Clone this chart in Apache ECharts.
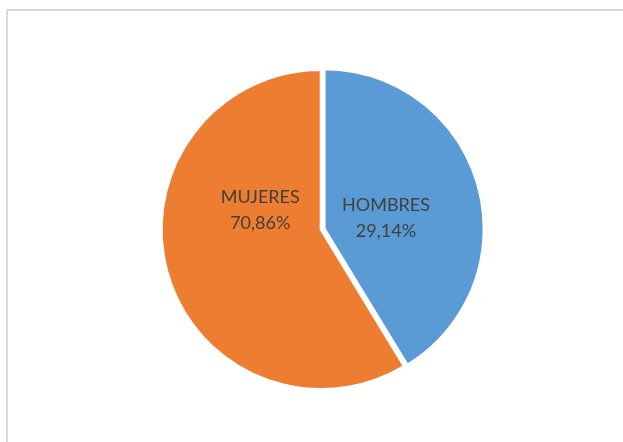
<!DOCTYPE html>
<html>
<head>
<meta charset="utf-8">
<script src="https://cdn.jsdelivr.net/npm/echarts@6/dist/echarts.min.js"></script>
<style>
html,body{margin:0;padding:0;background:#fff;}
#chart{width:623px;height:442px;}
</style>
</head>
<body>
<div id="chart"></div>
<script>
// Data (slice angles as drawn) and the printed labels
const categories = ['HOMBRES', 'MUJERES'];
const sliceValues = [41.3, 58.7];
const labelTexts = ['29,14%', '70,86%'];
const colors = ['#5B9BD5', '#ED7D31'];

// label offsets from the default inside position
const labelOffsets = [[-18, 12], [19, -42]];

const chart = echarts.init(document.getElementById('chart'));
chart.setOption({
  backgroundColor: '#ffffff',
  animation: false,
  graphic: [{
    type: 'rect',
    shape: { x: 7, y: 10, width: 700, height: 600 },
    style: { fill: 'none', stroke: '#d9d9d9', lineWidth: 2 },
    silent: true
  }],
  series: [{
    type: 'pie',
    center: [321.2, 229.5],
    radius: 160,
    startAngle: 90,
    clockwise: true,
    selectedMode: 'single',
    selectedOffset: 3,
    avoidLabelOverlap: false,
    itemStyle: { borderColor: '#ffffff', borderWidth: 3 },
    label: {
      show: true,
      position: 'inside',
      color: '#404040',
      fontFamily: 'Lato, "Open Sans", sans-serif',
      fontSize: 18,
      lineHeight: 26,
      align: 'center',
      formatter: p => p.name + '\n' + labelTexts[p.dataIndex]
    },
    labelLine: { show: false },
    emphasis: { disabled: true },
    data: categories.map((c, i) => ({
      name: c,
      value: sliceValues[i],
      selected: i === 0,
      itemStyle: { color: colors[i] },
      label: { offset: labelOffsets[i] },
      select: { label: { offset: labelOffsets[i] } }
    }))
  }]
});
</script>
</body>
</html>
